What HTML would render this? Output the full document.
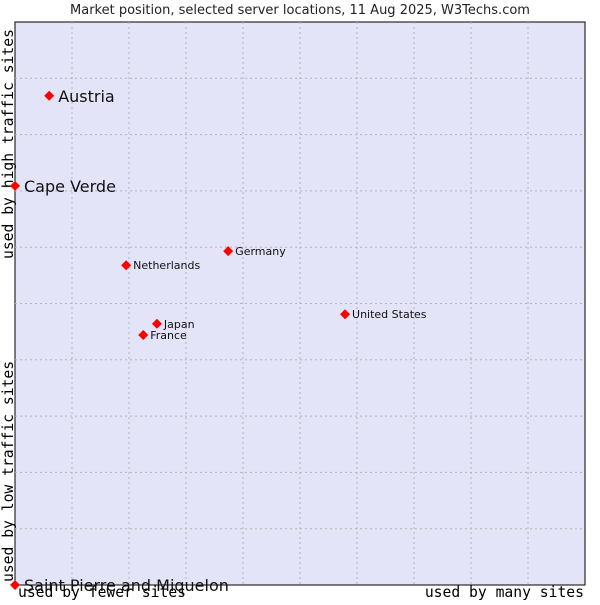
<!DOCTYPE html>
<html><head><meta charset="utf-8"><style>
body{margin:0;background:#fff;width:600px;height:600px;overflow:hidden}
svg text{font-family:"DejaVu Sans Mono","Liberation Mono",monospace}
</style></head><body>
<svg width="600" height="600">
<text x="300" y="14" text-anchor="middle" font-size="13" style="font-family:'DejaVu Sans',sans-serif" fill="#222">Market position, selected server locations, 11 Aug 2025, W3Techs.com</text>
<rect x="15" y="22" width="570" height="563" fill="#e3e4f8" stroke="#000"/>
<g id="grid"></g>
<text transform="translate(13,259) rotate(-90)" font-size="14.7" fill="#000">used by high traffic sites</text>
<text transform="translate(13,582) rotate(-90)" font-size="14.7" fill="#000">used by low traffic sites</text>
<text x="18" y="597" font-size="14.7" fill="#000">used by fewer sites</text>
<text x="584" y="597" font-size="14.7" text-anchor="end" fill="#000">used by many sites</text>
<g id="pts"></g>
</svg>
<script>
const names=["Austria","Cape Verde","Germany","Netherlands","United States","Japan","France","Saint Pierre and Miquelon"];
const xVals=[0.6,0,3.74,1.95,5.79,2.49,2.25,0];
const yVals=[8.69,7.09,5.93,5.68,4.81,4.64,4.44,0];
const bigLabel=[true,true,false,false,false,false,false,true];
const X0=15,X1=585,Y0=585,Y1=22;
const sx=v=>X0+v/10*(X1-X0), sy=v=>Y0-v/10*(Y0-Y1);
const NS="http://www.w3.org/2000/svg";
const g=document.getElementById('grid');
for(let i=1;i<10;i++){
 let l=document.createElementNS(NS,'line');
 l.setAttribute('x1',sx(i));l.setAttribute('x2',sx(i));l.setAttribute('y1',Y1);l.setAttribute('y2',Y0);
 l.setAttribute('stroke','#b4b4b4');l.setAttribute('stroke-dasharray','2,3');
 
 
 g.appendChild(l);
 let h=document.createElementNS(NS,'line');
 h.setAttribute('y1',sy(i));h.setAttribute('y2',sy(i));h.setAttribute('x1',X0);h.setAttribute('x2',X1);
 h.setAttribute('stroke','#b4b4b4');h.setAttribute('stroke-dasharray','2,3');
 
 
 g.appendChild(h);
}
const p=document.getElementById('pts');
names.forEach((n,i)=>{
 const x=sx(xVals[i]),y=sy(yVals[i]);
 let d=document.createElementNS(NS,'path');
 d.setAttribute('d',`M${x-5},${y}L${x},${y-5}L${x+5},${y}L${x},${y+5}Z`);
 d.setAttribute('fill','#f00');
 
 
 p.appendChild(d);
 let t=document.createElementNS(NS,'text');
 t.setAttribute('x',x+(bigLabel[i]?9:7));t.setAttribute('y',y+(bigLabel[i]?6:4));
 t.setAttribute('font-size',bigLabel[i]?16:11);
 t.setAttribute('fill','#111');
 t.setAttribute('style',"font-family:'DejaVu Sans',sans-serif");
 t.textContent=n;
 
 
 p.appendChild(t);
});
</script>
</body></html>
